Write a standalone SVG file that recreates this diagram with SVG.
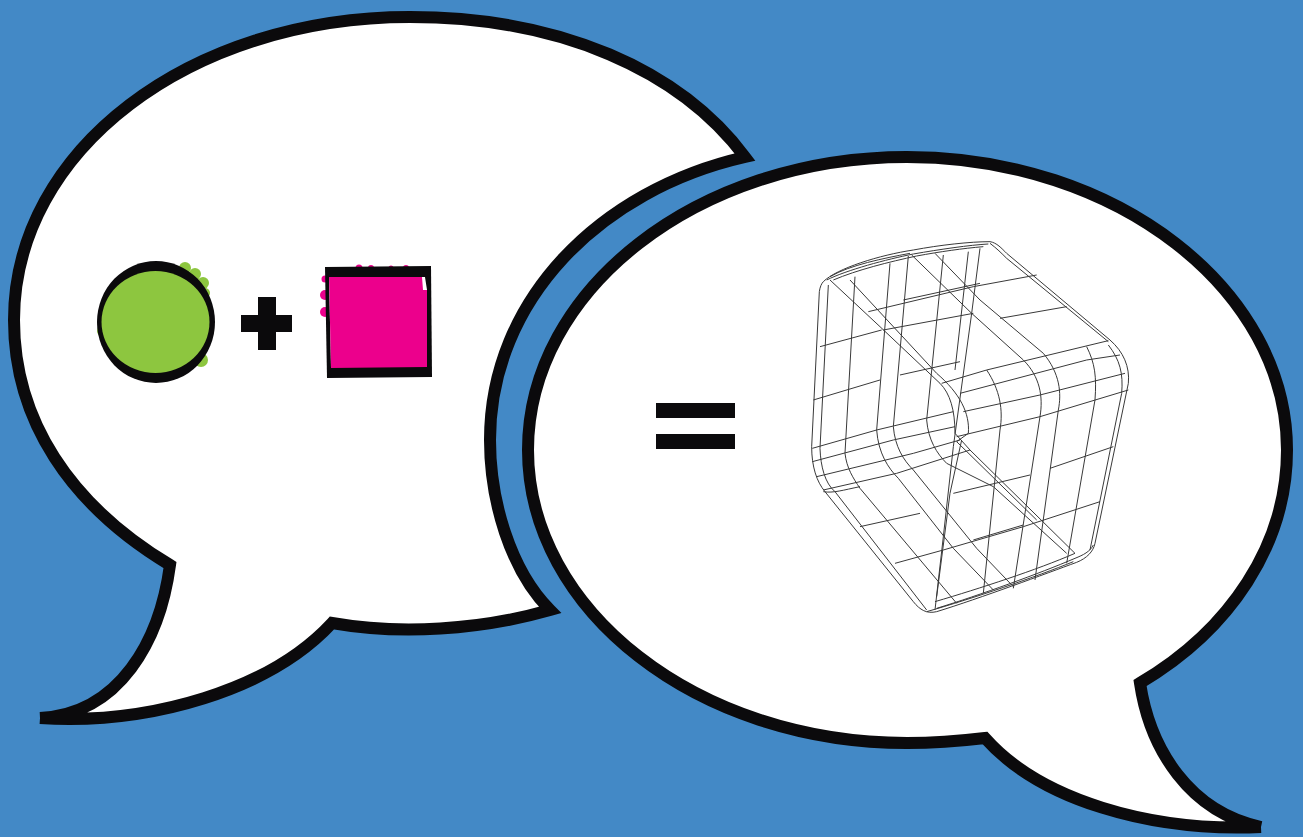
<svg xmlns="http://www.w3.org/2000/svg" width="1303" height="837" viewBox="0 0 1303 837">
<style>
.bubble{fill:#fff;stroke:#0b0a0c;stroke-width:12;stroke-linejoin:miter;stroke-miterlimit:8;stroke-linecap:butt}
.ink{fill:#0b0a0c}
.wire{fill:none;stroke:#383838;stroke-width:3;stroke-linejoin:round}
.green{fill:#8dc63f}
.pink{fill:#ec008c}
</style>
<rect width="1303" height="837" fill="#4389c6"/>
<g id="bubble-left"><path class="bubble" d="M40 718C120 714 160 640 170 565C70 505 14 420 14 320C14 150 190 17 410 17C560 17 680 70 745 157C600 190 490 300 490 440C490 500 510 570 550 610C480 630 400 635 332 623C270 690 150 725 40 718"/></g>
<g id="bubble-right"><path class="bubble" d="M1261 827C1190 812 1150 750 1140 683C1230 630 1287 545 1287 450C1287 290 1117 157 907 157C697 157 528 290 528 450C528 610 697 743 907 743C935 743 960 741 985 738C1040 800 1150 832 1261 827"/></g>
<g id="circle">
<circle class="green" cx="185" cy="268" r="6"/><circle class="green" cx="195" cy="274" r="6"/><circle class="green" cx="203" cy="283" r="6"/><circle class="green" cx="205" cy="293" r="5"/><circle class="green" cx="103" cy="331" r="6"/><circle class="green" cx="201" cy="360" r="7"/>
<ellipse class="ink" cx="156" cy="322" rx="59" ry="61"/>
<ellipse class="green" cx="155.500" cy="322" rx="54" ry="51"/>
</g>
<g id="plus"><path class="ink" d="M258 297H276V315H292V332H276V350H258V332H241V315H258Z"/></g>
<g id="square">
<circle class="pink" cx="359" cy="268" r="3.500"/><circle class="pink" cx="371" cy="268" r="3"/><circle class="pink" cx="391" cy="268" r="2.500"/><circle class="pink" cx="406" cy="268" r="3"/><circle class="pink" cx="325" cy="279" r="3.500"/><circle class="pink" cx="325" cy="295" r="5"/><circle class="pink" cx="325" cy="312" r="5"/>
<path class="ink" d="M325 267L431 266L432 377L327 378Z"/>
<path fill="#fff" d="M329 277L425 277L427 290L427 320L331 368Z"/>
<path class="pink" d="M329 277L422 277L423 290L427 290L427 367L331 368Z"/>
</g>
<g id="equals"><rect class="ink" x="656" y="403" width="79" height="15"/><rect class="ink" x="656" y="434" width="79" height="15"/></g>
<g id="wireframe" transform="translate(780 220) scale(.33333)">
<path class="wire" d="M130 185C170 145 300 105 400 90C480 75 570 65 630 65C650 68 665 85 680 100L990 360C1030 395 1050 440 1045 490L945 970C940 995 920 1015 890 1027C800 1060 600 1135 470 1175C440 1182 420 1170 400 1145L135 815C110 785 95 740 95 680L118 215C120 200 125 190 130 185Z"/>
<path class="wire" d="M140 180C200 150 320 118 400 102C480 88 570 75 625 72M150 170C210 135 310 115 390 100M160 180C230 150 330 125 410 108C480 95 550 85 610 80M630 70C650 85 665 100 680 115L985 365M470 1165C600 1125 780 1060 885 1015C910 1005 930 995 940 975M440 1175C580 1135 770 1070 880 1025M465 1145C600 1105 770 1050 885 1000M130 815C160 820 190 810 240 800"/>
<path class="wire" d="M145 195L120 685C122 740 135 790 165 815L440 1170"/>
<path class="wire" d="M225 170L195 700C200 745 220 775 240 805L530 1150"/>
<path class="wire" d="M330 130L290 630C295 700 325 745 355 775L520 985L640 1110"/>
<path class="wire" d="M385 108L340 620C345 680 370 720 400 750L590 985L700 1100"/>
<path class="wire" d="M490 105L440 600C445 660 470 700 500 730L640 800L860 1000"/>
<path class="wire" d="M600 85L575 280L520 680L490 950L465 1170"/>
<path class="wire" d="M565 95L525 450M545 660L510 820L470 1130"/>
<path class="wire" d="M150 180L300 320L480 490C510 520 525 570 525 640L570 690L885 1000"/>
<path class="wire" d="M210 180L470 460C540 520 570 580 565 640L530 665L770 900"/>
<path class="wire" d="M395 105L575 280L730 420C780 470 790 530 780 590L700 1105"/>
<path class="wire" d="M465 100L600 240L790 400C840 460 845 520 835 570L765 1080"/>
<path class="wire" d="M620 450C660 510 670 570 660 630L610 1120"/>
<path class="wire" d="M920 380C945 430 950 470 945 540L860 1030"/>
<path class="wire" d="M985 375C1020 420 1030 460 1025 520L930 990"/>
<path class="wire" d="M485 490L620 450L985 362"/>
<path class="wire" d="M540 520L920 420L1020 405"/>
<path class="wire" d="M550 575L780 525L1035 460"/>
<path class="wire" d="M530 650L780 590L1045 510"/>
<path class="wire" d="M97 685L290 630L520 575"/>
<path class="wire" d="M97 725L340 660L525 620"/>
<path class="wire" d="M110 770L400 700L540 660"/>
<path class="wire" d="M130 810L350 760L570 690"/>
<path class="wire" d="M120 380L305 330M100 540L300 480M360 465L540 425M265 275L580 200L770 165M310 330L580 280M370 240L600 190M660 295L860 260"/>
<path class="wire" d="M240 920L420 880M345 1030L490 990L730 920L960 845M520 820L750 765M810 745L1000 680M580 960L730 915"/>
</g>
</svg>
